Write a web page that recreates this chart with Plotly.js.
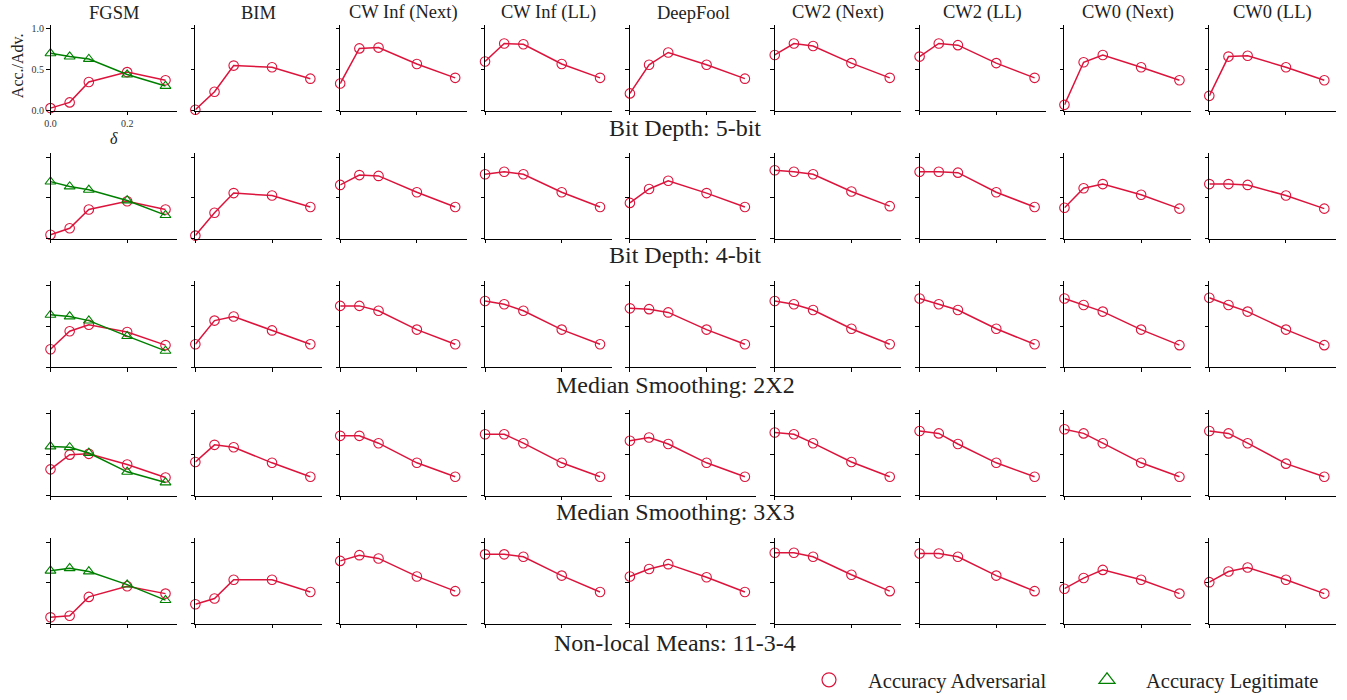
<!DOCTYPE html>
<html><head><meta charset="utf-8">
<script src="https://cdn.plot.ly/plotly-3.0.1.min.js"></script>
<style>html,body{margin:0;padding:0;background:#fff}#chart{width:1347px;height:700px}</style>
</head><body><div id="chart"></div><script>
// ---- data ----
const deltas = [0, 0.05, 0.1, 0.2, 0.3];
const attacks = ['FGSM','BIM','CW Inf (Next)','CW Inf (LL)','DeepFool','CW2 (Next)','CW2 (LL)','CW0 (Next)','CW0 (LL)'];
const squeezers = ['Bit Depth: 5-bit','Bit Depth: 4-bit','Median Smoothing: 2X2','Median Smoothing: 3X3','Non-local Means: 11-3-4'];
const xTickVals = [0, 0.2];
const xTickText = ['0.0', '0.2'];
const yTickVals = [0, 0.5, 1.0];
const yTickText = ['0.0', '0.5', '1.0'];
const seriesNames = ['Accuracy Adversarial', 'Accuracy Legitimate'];

// adversarial accuracy per squeezer, one list per attack (same order as attacks)
const advBit5 = [
  [0.03,0.10,0.35,0.47,0.37],
  [0.01,0.23,0.55,0.53,0.39],
  [0.33,0.76,0.77,0.57,0.40],
  [0.60,0.82,0.81,0.57,0.40],
  [0.21,0.56,0.71,0.56,0.39],
  [0.68,0.82,0.79,0.58,0.40],
  [0.66,0.82,0.80,0.58,0.40],
  [0.07,0.59,0.68,0.53,0.37],
  [0.18,0.66,0.67,0.53,0.37]
];
const advBit4 = [
  [0.05,0.13,0.36,0.46,0.36],
  [0.04,0.32,0.56,0.53,0.39],
  [0.66,0.78,0.77,0.57,0.39],
  [0.79,0.82,0.79,0.57,0.39],
  [0.44,0.61,0.71,0.56,0.39],
  [0.84,0.82,0.79,0.58,0.40],
  [0.82,0.82,0.81,0.57,0.39],
  [0.38,0.62,0.67,0.54,0.37],
  [0.67,0.67,0.66,0.53,0.37]
];
const advMed2 = [
  [0.22,0.44,0.52,0.43,0.27],
  [0.28,0.57,0.62,0.45,0.28],
  [0.75,0.75,0.69,0.46,0.28],
  [0.81,0.77,0.69,0.46,0.28],
  [0.72,0.71,0.67,0.46,0.28],
  [0.81,0.77,0.70,0.47,0.28],
  [0.84,0.77,0.70,0.47,0.28],
  [0.84,0.76,0.68,0.46,0.27],
  [0.85,0.76,0.68,0.46,0.27]
];
const advMed3 = [
  [0.32,0.50,0.51,0.38,0.22],
  [0.41,0.62,0.59,0.40,0.23],
  [0.73,0.73,0.64,0.40,0.23],
  [0.75,0.75,0.64,0.40,0.23],
  [0.67,0.71,0.63,0.40,0.23],
  [0.77,0.75,0.64,0.41,0.23],
  [0.79,0.76,0.63,0.40,0.23],
  [0.81,0.76,0.64,0.40,0.23],
  [0.79,0.76,0.64,0.39,0.23]
];
const advNLM = [
  [0.08,0.10,0.33,0.46,0.37],
  [0.24,0.31,0.54,0.54,0.39],
  [0.77,0.84,0.80,0.58,0.40],
  [0.85,0.85,0.82,0.59,0.39],
  [0.58,0.67,0.73,0.57,0.39],
  [0.87,0.87,0.82,0.60,0.40],
  [0.86,0.86,0.82,0.59,0.40],
  [0.43,0.56,0.66,0.54,0.37],
  [0.51,0.64,0.69,0.54,0.37]
];
// legitimate accuracy (FGSM column only), one list per squeezer
const legitFGSM = [
  [0.70,0.66,0.63,0.44,0.30],
  [0.70,0.64,0.60,0.47,0.29],
  [0.64,0.62,0.57,0.38,0.20],
  [0.60,0.59,0.52,0.29,0.16],
  [0.65,0.68,0.64,0.48,0.29]
];
const advRows = [advBit5, advBit4, advMed2, advMed3, advNLM];

// ---- layout geometry ----
const W = 1347, H = 700;
const colLeft0 = 50.5, colStep = 144.85, colW = 126.5;
const rowBottom0 = 112, rowStep = 130, rowH = 87;
const RED = '#dc143c', GREEN = '#008000';
const FONT = '"Liberation Serif", "DejaVu Serif", serif';

const traces = [];
const layout = {
  width: W, height: H,
  margin: {l:0, r:0, t:0, b:0},
  paper_bgcolor: '#fff', plot_bgcolor: '#fff',
  font: {family: FONT, color: '#222'},
  showlegend: true,
  legend: {orientation: 'h', x: 790/W, y: 1 - 689/H, xanchor: 'left', yanchor: 'middle',
           font: {family: FONT, size: 20.5, color: '#222'}, itemwidth: 68, bgcolor: 'rgba(0,0,0,0)'},
  legend2: {orientation: 'h', x: 1068/W, y: 1 - 689/H, xanchor: 'left', yanchor: 'middle',
           font: {family: FONT, size: 20.5, color: '#222'}, itemwidth: 68, bgcolor: 'rgba(0,0,0,0)'},
  annotations: []
};

for (let r = 0; r < squeezers.length; r++) {
  for (let c = 0; c < attacks.length; c++) {
    const n = r * attacks.length + c + 1;
    const sfx = n > 1 ? String(n) : '';
    const left = colLeft0 + c * colStep;
    const bottom = rowBottom0 + r * rowStep;
    const first = (n === 1);
    layout['xaxis' + sfx] = {
      domain: [left / W, (left + colW) / W], range: [0, 0.33], anchor: 'y' + sfx,
      showline: true, linecolor: '#000', linewidth: 1, mirror: false,
      ticks: 'outside', ticklen: 3.5, tickwidth: 1, tickcolor: '#000',
      tickvals: xTickVals, ticktext: xTickText, showticklabels: first,
      tickfont: {family: FONT, size: 10, color: '#333'},
      showgrid: false, zeroline: false, fixedrange: true
    };
    layout['yaxis' + sfx] = {
      domain: [1 - bottom / H, 1 - (bottom - rowH) / H], range: [0, 1.05], anchor: 'x' + sfx,
      showline: true, linecolor: '#000', linewidth: 1, mirror: false,
      ticks: 'outside', ticklen: 3.5, tickwidth: 1, tickcolor: '#000',
      tickvals: yTickVals, ticktext: yTickText, showticklabels: first,
      tickfont: {family: FONT, size: 10, color: '#333'},
      showgrid: false, zeroline: false, fixedrange: true
    };
    traces.push({
      type: 'scatter', mode: 'lines+markers', x: deltas, y: advRows[r][c],
      xaxis: 'x' + sfx, yaxis: 'y' + sfx, showlegend: false, cliponaxis: false,
      line: {color: RED, width: 1.5},
      marker: {symbol: 'circle-open', size: 9.5, color: RED, line: {width: 1.1, color: RED}},
      hoverinfo: 'skip'
    });
    if (c === 0) {
      traces.push({
        type: 'scatter', mode: 'lines+markers', x: deltas, y: legitFGSM[r],
        xaxis: 'x' + sfx, yaxis: 'y' + sfx, showlegend: false, cliponaxis: false,
        line: {color: GREEN, width: 1.5},
        marker: {symbol: 'triangle-up-open', size: 9.5, color: GREEN, line: {width: 1.1, color: GREEN}},
        hoverinfo: 'skip'
      });
    }
  }
  // row label
  const rowCenters = [685, 685, 675, 675, 675];
  const rowY = [130, 258, 390, 519, 651];
  layout.annotations.push({
    text: squeezers[r], xref: 'paper', yref: 'paper', x: rowCenters[r] / W, y: 1 - rowY[r] / H,
    xanchor: 'center', yanchor: 'middle', showarrow: false,
    font: {family: FONT, size: 24, color: '#222'}
  });
}
// column titles
for (let c = 0; c < attacks.length; c++) {
  const left = colLeft0 + c * colStep;
  layout.annotations.push({
    text: attacks[c], xref: 'paper', yref: 'paper', x: (left + colW / 2) / W, y: 1 - 13 / H,
    xanchor: 'center', yanchor: 'middle', showarrow: false,
    font: {family: FONT, size: 18.5, color: '#222'}
  });
}
// axis titles of the first panel
layout.annotations.push({
  text: 'Acc./Adv.', xref: 'paper', yref: 'paper', x: 17 / W, y: 1 - 67 / H,
  xanchor: 'center', yanchor: 'middle', textangle: -90, showarrow: false,
  font: {family: FONT, size: 16, color: '#222'}
});
layout.annotations.push({
  text: '<i>δ</i>', xref: 'paper', yref: 'paper', x: 114 / W, y: 1 - 140 / H,
  xanchor: 'center', yanchor: 'middle', showarrow: false,
  font: {family: FONT, size: 16, color: '#222'}
});
// legend entries
traces.push({type: 'scatter', mode: 'markers', x: [null], y: [null], name: seriesNames[0], legend: 'legend',
  marker: {symbol: 'circle-open', size: 14, color: RED, line: {width: 1.2, color: RED}}, showlegend: true});
traces.push({type: 'scatter', mode: 'markers', x: [null], y: [null], name: seriesNames[1], legend: 'legend2',
  marker: {symbol: 'triangle-up-open', size: 14, color: GREEN, line: {width: 1.2, color: GREEN}}, showlegend: true});

Plotly.newPlot('chart', traces, layout, {staticPlot: true, displayModeBar: false});
</script></body></html>
